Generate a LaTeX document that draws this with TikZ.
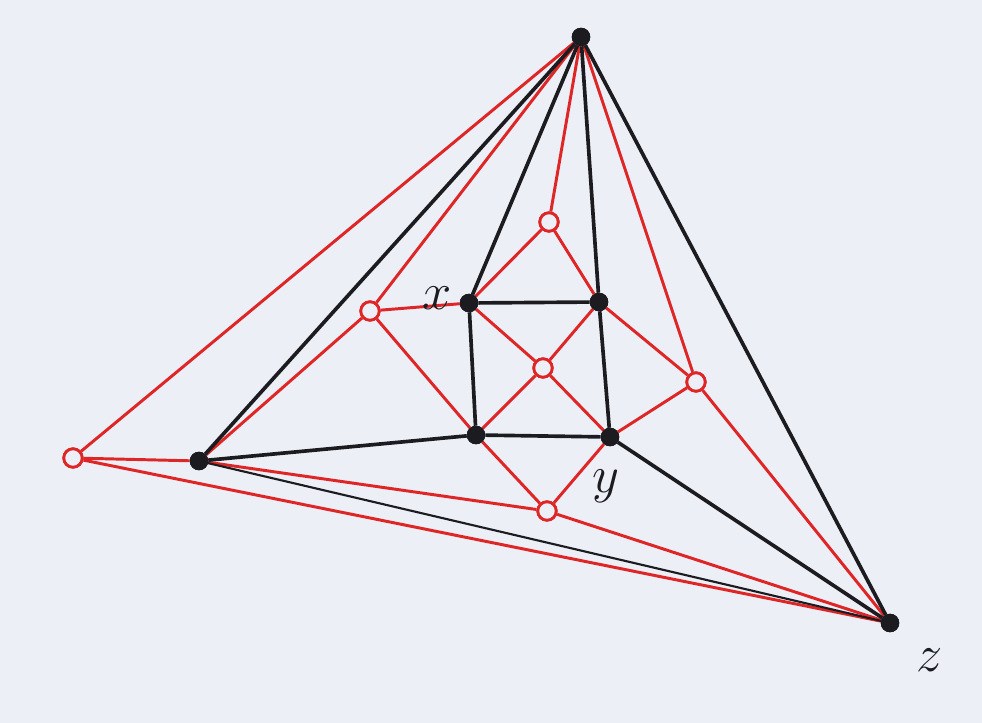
\documentclass[tikz,border=0pt]{standalone}
\usepackage{xcolor}
\usepackage{tikz}
\usetikzlibrary{positioning}
\begin{document}
\begin{tikzpicture}[x=0.025cm,y=-0.025cm,
  vtx/.style={circle,fill=ink,draw=ink,inner sep=0pt,minimum size=0.45cm},
  face/.style={circle,draw=pen,fill=paper,line width=2pt,inner sep=0pt,minimum size=0.46cm},
  prim/.style={ink,line width=2.6pt},
  dual/.style={pen,line width=2.1pt},
  lbl/.style={ink,font=\Huge,scale=1.5}]
% Plane graph in black, its faces as open red circles joined to
% the corners of each face (the radial graph).
\definecolor{ink}{RGB}{28, 28, 32}
\definecolor{pen}{RGB}{222, 38, 38}
\definecolor{paper}{RGB}{237, 239, 247}
\fill[paper] (0,0) rectangle (982,723);
% black vertices
\node[vtx] (t) at (581,37) {};
\node[vtx] (x) at (469,303) {};
\node[vtx] (b) at (599,302) {};
\node[vtx] (c) at (476,435) {};
\node[vtx] (y) at (610,437) {};
\node[vtx] (l) at (199,461) {};
\node[vtx] (z) at (890,623) {};
% red face vertices
\node[face] (fo) at (73,458) {};
\node[face] (fl) at (370,311) {};
\node[face] (ft) at (549,222) {};
\node[face] (fc) at (543,368) {};
\node[face] (fr) at (696,382) {};
\node[face] (fb) at (547,511) {};
% red: face to its corners
\foreach \f/\v in {fo/t, fo/l, fo/z,
                   fl/t, fl/l, fl/c, fl/x,
                   ft/t, ft/x, ft/b,
                   fc/x, fc/b, fc/c, fc/y,
                   fr/t, fr/b, fr/y, fr/z,
                   fb/l, fb/c, fb/y, fb/z} {
  \draw[dual] (\f) -- (\v);
}
% black edges
\foreach \u/\v in {t/l, t/x, t/b, t/z, x/b, x/c, b/y, c/y, l/c, y/z} {
  \draw[prim] (\u) -- (\v);
}
\draw[ink, line width=1.5pt] (l) -- (z);
% redraw dots on top
\foreach \n in {t, x, b, c, y, l, z} {
  \fill[ink] (\n) circle (0.23cm);
}
\foreach \n in {fo, fl, ft, fc, fr, fb} {
  \node[face] at (\n) {};
}
\node[lbl] (xl) at (437,298) {$x$};
\node[lbl] (yl) at (606,486) {$y$};
\node[lbl] (zl) at (930,660) {$z$};
\end{tikzpicture}
\end{document}
